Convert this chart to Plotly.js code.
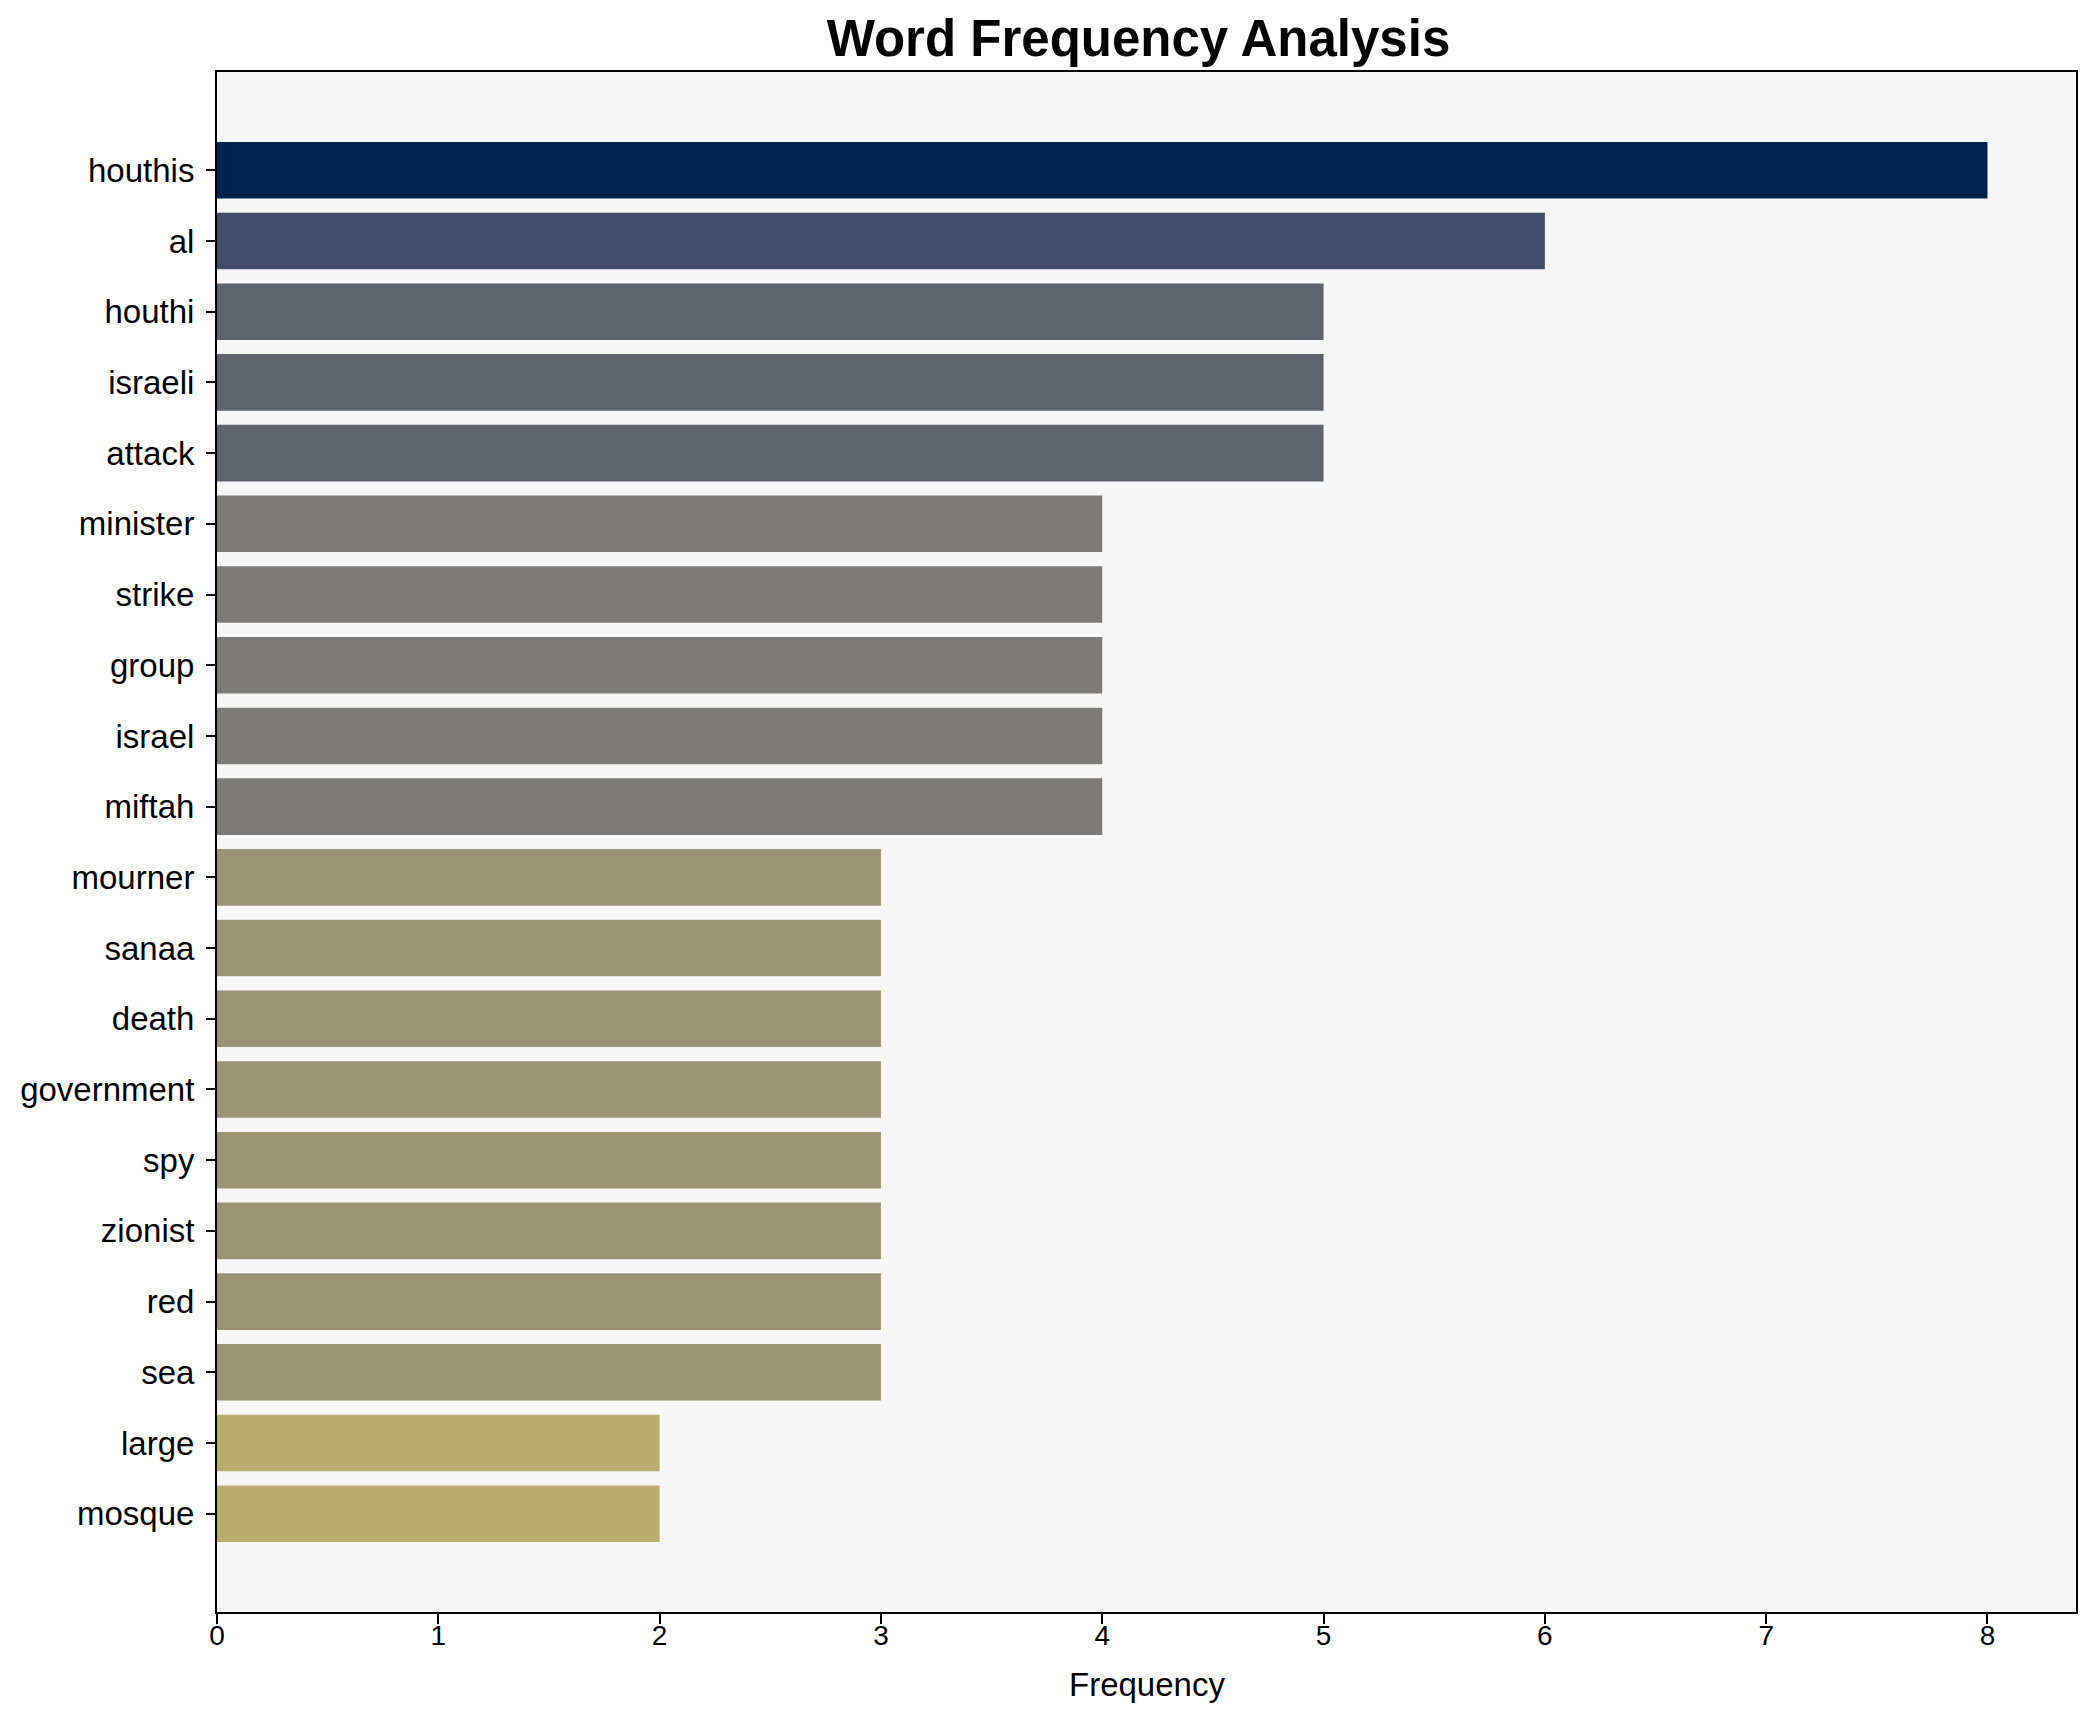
<!DOCTYPE html>
<html>
<head>
<meta charset="utf-8">
<script src="https://cdn.plot.ly/plotly-3.0.1.min.js"></script>
<style>
html, body { margin: 0; padding: 0; background: #ffffff; }
#chart { width: 2095px; height: 1722px; }
</style>
</head>
<body>
<div id="chart"></div>
<script>
const words = ["houthis", "al", "houthi", "israeli", "attack", "minister", "strike", "group", "israel", "miftah",
  "mourner", "sanaa", "death", "government", "spy", "zionist", "red", "sea", "large", "mosque"];
const frequencies = [8, 6, 5, 5, 5, 4, 4, 4, 4, 4, 3, 3, 3, 3, 3, 3, 3, 3, 2, 2];
const barColors = ["#00224e", "#424d6b", "#5f636e", "#5f636e", "#5f636e",
  "#7c7b78", "#7c7b78", "#7c7b78", "#7c7b78", "#7c7b78",
  "#9b9474", "#9b9474", "#9b9474", "#9b9474", "#9b9474", "#9b9474", "#9b9474", "#9b9474",
  "#bbad6d", "#bbad6d"];
const xTicks = [0, 1, 2, 3, 4, 5, 6, 7, 8];

const font = "Liberation Sans, Arial, sans-serif";

const trace = {
  type: "bar",
  orientation: "h",
  x: frequencies,
  y: words,
  width: 0.8,
  marker: { color: barColors, line: { width: 0 } },
  hoverinfo: "x+y"
};

const layout = {
  width: 2095,
  height: 1722,
  paper_bgcolor: "#ffffff",
  plot_bgcolor: "#f7f7f7",
  showlegend: false,
  margin: { l: 217, r: 19, t: 72, b: 110, pad: 0 },
  title: {
    text: "<b>Word Frequency Analysis</b>",
    font: { family: font, size: 51, color: "#000000" },
    x: 0.4957,
    xanchor: "center",
    xref: "paper",
    yref: "container",
    y: 1 - 38 / 1722,
    yanchor: "middle"
  },
  xaxis: {
    range: [0, 8.4],
    tickvals: xTicks,
    ticktext: xTicks.map(String),
    showgrid: false,
    zeroline: false,
    showline: true,
    linecolor: "#000000",
    linewidth: 2,
    mirror: true,
    ticks: "outside",
    ticklen: 10,
    tickwidth: 2,
    tickcolor: "#000000",
    ticklabelstandoff: -13,
    tickfont: { family: font, size: 28, color: "#000000" },
    title: { text: "" },
    automargin: false
  },
  yaxis: {
    type: "category",
    range: [20.39, -1.39],
    showgrid: false,
    zeroline: false,
    showline: true,
    linecolor: "#000000",
    linewidth: 2,
    mirror: true,
    ticks: "outside",
    ticklen: 9,
    tickwidth: 2,
    tickcolor: "#000000",
    ticklabelstandoff: 5,
    tickfont: { family: font, size: 33, color: "#000000" },
    automargin: false
  },
  annotations: [{
    text: "Frequency",
    xref: "paper", yref: "paper",
    x: 0.5, y: -(1684 - 1612) / 1540,
    xanchor: "center", yanchor: "middle",
    showarrow: false,
    font: { family: font, size: 33, color: "#000000" }
  }]
};

Plotly.newPlot("chart", [trace], layout, { displayModeBar: false, staticPlot: true });
</script>
</body>
</html>
